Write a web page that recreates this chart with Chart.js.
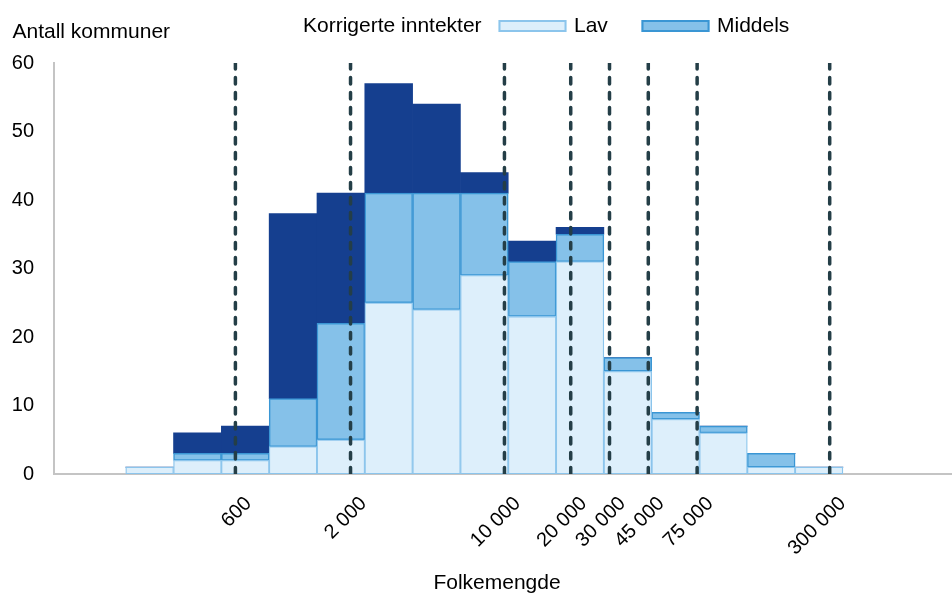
<!DOCTYPE html>
<html>
<head>
<meta charset="utf-8">
<script src="https://cdn.jsdelivr.net/npm/chart.js@4/dist/chart.umd.min.js"></script>
<style>
  html, body { margin: 0; padding: 0; background: #fff; }
  canvas { display: block; }
</style>
</head>
<body>
<canvas id="chart" width="952" height="595"></canvas>
<script>
// Bin centres on a natural-log population axis (each bin is 0.5 wide)
const binCentres = [5.5, 6.0, 6.5, 7.0, 7.5, 8.0, 8.5, 9.0, 9.5, 10.0, 10.5, 11.0, 11.5, 12.0, 12.5];
// Number of municipalities per bin, by corrected income level
const lav     = [1, 2, 2, 4, 5, 25, 24, 29, 23, 31, 15, 8, 6, 1, 1];
const middels = [0, 1, 1, 7, 17, 16, 17, 12, 8, 4, 2, 1, 1, 2, 0];
const hoy     = [0, 3, 4, 27, 19, 16, 13, 3, 3, 1, 0, 0, 0, 0, 0];
// Population thresholds marked by dashed lines
const cutoffs = [600, 2000, 10000, 20000, 30000, 45000, 75000, 300000];
const cutoffLabels = ['600', '2 000', '10 000', '20 000', '30 000', '45 000', '75 000', '300 000'];
const yTicks = [0, 10, 20, 30, 40, 50, 60];

const FONT = "'Liberation Sans', Arial, sans-serif";
const FONT_SIZE = 21;

function barSeries(label, values, bg, border, width) {
  return {
    type: 'bar',
    label: label,
    stack: 'kommuner',
    order: 1,
    data: binCentres.map((x, i) => ({ x: x, y: values[i] })),
    backgroundColor: bg,
    borderColor: border,
    borderWidth: width,
    borderSkipped: false,
    barThickness: 'flex',
    barPercentage: 1,
    categoryPercentage: 1
  };
}

const cutoffLines = cutoffs.map((c, i) => ({
  type: 'line',
  label: cutoffLabels[i],
  stack: 'cut' + i,
  order: 0,
  data: [{ x: Math.log(c), y: yTicks[0] }, { x: Math.log(c), y: yTicks[yTicks.length - 1] }],
  borderColor: '#243E47',
  borderWidth: 3.5,
  borderDash: [6.5, 8.5],
  borderCapStyle: 'round',
  pointRadius: 0,
  fill: false,
  tension: 0
}));

// Titles and the legend row
const annotations = {
  id: 'annotations',
  afterDraw(chart) {
    const ctx = chart.ctx;
    ctx.save();
    ctx.font = FONT_SIZE + 'px ' + FONT;
    ctx.fillStyle = '#000';
    ctx.textBaseline = 'alphabetic';
    ctx.textAlign = 'left';
    ctx.fillText('Antall kommuner', 12.5, 37.5);
    ctx.fillText('Korrigerte inntekter', 303, 31.7);

    const keys = [
      { label: 'Lav', x: 498.5, bg: '#DDEFFB', border: '#8CC5EC', tx: 574 },
      { label: 'Middels', x: 641.5, bg: '#85C1E9', border: '#3A96D4', tx: 717 }
    ];
    keys.forEach(k => {
      ctx.fillStyle = k.bg;
      ctx.fillRect(k.x, 20, 68, 12);
      ctx.strokeStyle = k.border;
      ctx.lineWidth = 2;
      ctx.strokeRect(k.x + 1, 21, 66, 10);
      ctx.fillStyle = '#000';
      ctx.fillText(k.label, k.tx, 31.7);
    });

    ctx.textAlign = 'center';
    ctx.fillText('Folkemengde', 497, 589);
    ctx.restore();
  }
};

new Chart(document.getElementById('chart'), {
  type: 'bar',
  data: {
    datasets: [
      barSeries('Lav', lav, '#DDEFFB', '#8CC5EC', 1.3),
      barSeries('Middels', middels, '#85C1E9', '#3A96D4', 1.5),
      barSeries('Høy', hoy, '#153F8F', '#153F8F', 0),
      ...cutoffLines
    ]
  },
  options: {
    responsive: false,
    devicePixelRatio: 1,
    animation: false,
    layout: { padding: { top: 63, left: 0, right: 1, bottom: 0 } },
    plugins: {
      legend: { display: false },
      tooltip: { enabled: false },
      title: { display: false }
    },
    scales: {
      x: {
        type: 'linear',
        min: 4.5,
        max: 13.88,
        stacked: true,
        offset: false,
        grid: { display: false, offset: false, drawTicks: false },
        border: { display: true, color: '#C4C4C4', width: 2 },
        afterBuildTicks: s => { s.ticks = cutoffs.map(c => ({ value: Math.log(c) })); },
        afterFit: s => { s.height = 121; },
        ticks: {
          autoSkip: false,
          minRotation: 45,
          maxRotation: 45,
          padding: 18,
          labelOffset: 13,
          color: '#000',
          font: { family: FONT, size: FONT_SIZE - 1 },
          callback: (v, i) => cutoffLabels[i]
        }
      },
      y: {
        type: 'linear',
        min: yTicks[0],
        max: yTicks[yTicks.length - 1],
        stacked: true,
        grid: { display: false, drawTicks: false },
        border: { display: true, color: '#C4C4C4', width: 2 },
        afterBuildTicks: s => { s.ticks = yTicks.map(v => ({ value: v })); },
        afterFit: s => { s.width = 54; },
        ticks: {
          padding: 20,
          color: '#000',
          font: { family: FONT, size: FONT_SIZE - 1 }
        }
      }
    }
  },
  plugins: [annotations]
});
</script>
</body>
</html>
